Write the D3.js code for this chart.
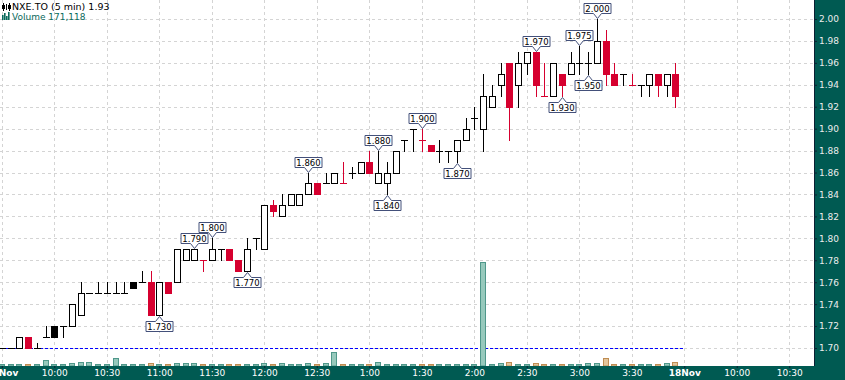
<!DOCTYPE html>
<html><head><meta charset="utf-8">
<script src="https://cdn.jsdelivr.net/npm/d3@7"></script>
<style>html,body{margin:0;padding:0;background:#fff;overflow:hidden}svg{display:block;font-family:"DejaVu Sans",Verdana,sans-serif}</style>
</head><body><svg id="c" width="845" height="380"></svg>
<script>
const times = ["9:30","9:35","9:40","9:45","9:50","9:55","10:00","10:05","10:10","10:15","10:20","10:25","10:30","10:35","10:40","10:45","10:50","10:55","11:00","11:05","11:10","11:15","11:20","11:25","11:30","11:35","11:40","11:45","11:50","11:55","12:00","12:05","12:10","12:15","12:20","12:25","12:30","12:35","12:40","12:45","12:50","12:55","1:00","1:05","1:10","1:15","1:20","1:25","1:30","1:35","1:40","1:45","1:50","1:55","2:00","2:05","2:10","2:15","2:20","2:25","2:30","2:35","2:40","2:45","2:50","2:55","3:00","3:05","3:10","3:15","3:20","3:25","3:30","3:35","3:40","3:45","3:50","3:55"];
const open  = [1.70,1.70,1.70,1.71,1.70,1.71,1.72,1.72,1.72,1.73,1.75,1.75,1.75,1.75,1.75,1.76,1.76,1.76,1.73,1.76,1.76,1.78,1.78,1.78,1.78,1.79,1.79,1.78,1.77,1.80,1.79,1.83,1.82,1.83,1.83,1.84,1.85,1.85,1.85,1.85,1.86,1.86,1.87,1.85,1.85,1.86,1.89,1.90,1.89,1.885,1.88,1.88,1.88,1.89,1.91,1.90,1.92,1.94,1.96,1.94,1.96,1.97,1.93,1.93,1.95,1.95,1.96,1.96,1.96,1.98,1.95,1.95,1.94,1.94,1.94,1.95,1.94,1.95];
const high  = [1.70,1.70,1.71,1.71,1.705,1.72,1.72,1.72,1.74,1.76,1.75,1.76,1.76,1.76,1.76,1.76,1.77,1.77,1.76,1.76,1.79,1.79,1.79,1.78,1.80,1.79,1.79,1.78,1.80,1.80,1.83,1.835,1.84,1.84,1.84,1.86,1.85,1.86,1.86,1.87,1.865,1.87,1.88,1.88,1.87,1.88,1.89,1.90,1.90,1.885,1.89,1.88,1.89,1.91,1.92,1.95,1.94,1.96,1.96,1.97,1.97,1.97,1.96,1.96,1.95,1.97,1.975,1.97,2.00,1.99,1.96,1.95,1.95,1.94,1.95,1.95,1.95,1.96];
const low   = [1.70,1.70,1.70,1.70,1.70,1.71,1.71,1.71,1.72,1.73,1.75,1.75,1.75,1.75,1.75,1.755,1.76,1.73,1.73,1.75,1.76,1.78,1.78,1.77,1.78,1.78,1.78,1.77,1.77,1.79,1.79,1.82,1.82,1.83,1.83,1.84,1.84,1.85,1.85,1.85,1.855,1.86,1.86,1.85,1.84,1.86,1.88,1.88,1.88,1.88,1.87,1.87,1.87,1.89,1.90,1.88,1.92,1.93,1.89,1.92,1.95,1.93,1.93,1.93,1.93,1.95,1.95,1.95,1.96,1.94,1.94,1.94,1.94,1.93,1.93,1.93,1.93,1.92];
const close = [1.70,1.70,1.71,1.70,1.70,1.71,1.71,1.72,1.74,1.75,1.75,1.75,1.75,1.75,1.75,1.755,1.76,1.73,1.76,1.75,1.79,1.79,1.79,1.78,1.79,1.79,1.78,1.77,1.79,1.80,1.83,1.825,1.83,1.84,1.84,1.85,1.84,1.85,1.86,1.85,1.86,1.87,1.86,1.86,1.86,1.88,1.89,1.90,1.89,1.88,1.88,1.88,1.89,1.90,1.91,1.93,1.93,1.95,1.92,1.96,1.97,1.94,1.93,1.96,1.94,1.96,1.96,1.96,1.98,1.95,1.94,1.95,1.94,1.94,1.95,1.94,1.95,1.93];
const volume = [30000,30000,40000,40000,30000,250000,30000,30000,85000,135000,165000,30000,30000,335000,30000,30000,30000,85000,30000,30000,85000,85000,85000,30000,30000,30000,30000,30000,30000,30000,85000,30000,85000,30000,30000,85000,30000,85000,635000,30000,30000,30000,30000,135000,30000,30000,30000,30000,30000,30000,30000,30000,30000,30000,30000,5150000,30000,85000,135000,30000,30000,85000,30000,30000,30000,30000,30000,85000,85000,365000,30000,30000,30000,30000,30000,30000,85000,171118];
const prevClose = 1.70;
const yTicks = [1.70,1.72,1.74,1.76,1.78,1.80,1.82,1.84,1.86,1.88,1.90,1.92,1.94,1.96,1.98,2.00];
const xTickSlots = [0,6,12,18,24,30,36,42,48,54,60,66,72,78,84,90];
const xTickLabels = ["17Nov","10:00","10:30","11:00","11:30","12:00","12:30","1:00","1:30","2:00","2:30","3:00","3:30","18Nov","10:00","10:30"];
const annBars = [18,22,24,28,35,43,44,48,52,61,64,66,67,68];
const annSide = ["low","high","high","low","high","high","low","high","low","high","low","high","low","high"];

const W=845,H=380,plotR=814,axisTop=366;
const RED="#d6002f", BLK="#000", TEAL="#005a52";
const svg=d3.select("#c");
const x=d3.scaleLinear().domain([0,92.83]).range([1.8,plotR]);
const y=d3.scaleLinear().domain([1.70,2.00]).range([348,19]);
const yv=d3.scaleLinear().domain([0,5150000]).range([axisTop,263]);

// grid
const g=svg.append("g");
g.selectAll("line.h").data(yTicks).join("line")
 .attr("x1",0).attr("x2",plotR).attr("y1",d=>Math.round(y(d))+0.5).attr("y2",d=>Math.round(y(d))+0.5)
 .attr("stroke","#d4d4d4").attr("stroke-dasharray","3,3");
g.selectAll("line.v").data(xTickSlots).join("line")
 .attr("y1",0).attr("y2",axisTop).attr("x1",d=>Math.round(x(d))+0.5).attr("x2",d=>Math.round(x(d))+0.5)
 .attr("stroke","#d4d4d4").attr("stroke-dasharray","3,3");

// previous close line
svg.append("line").attr("x1",0).attr("x2",x(78)).attr("y1",Math.round(y(prevClose))+0.5).attr("y2",Math.round(y(prevClose))+0.5)
 .attr("stroke","#0000ff").attr("stroke-dasharray","3,2");

// volume
const idx=d3.range(times.length);
const pc=i=> i===0?prevClose:close[i-1];
svg.append("g").selectAll("rect").data(idx).join("rect")
 .attr("x",i=>Math.round(x(i))-2.5).attr("width",5)
 .attr("y",i=>Math.round(yv(volume[i]))-0.5)
 .attr("height",i=>axisTop-Math.round(yv(volume[i]))+0.5)
 .attr("fill",i=>close[i]>=pc(i)?"#97c9bc":"#e2c59c")
 .attr("stroke",i=>close[i]>=pc(i)?"#4f978a":"#bf8c52");

// candles
const cg=svg.append("g");
idx.forEach(i=>{
  const px=Math.round(x(i));
  const col=close[i]<pc(i)?RED:BLK;
  const yh=Math.round(y(high[i])), yl=Math.round(y(low[i]));
  const yt=Math.round(y(Math.max(open[i],close[i]))), yb=Math.round(y(Math.min(open[i],close[i])));
  if(yl>yh) cg.append("line").attr("x1",px+0.5).attr("x2",px+0.5).attr("y1",yh).attr("y2",yl+1).attr("stroke",col);
  if(yb-yt<1){
    cg.append("line").attr("x1",px-3).attr("x2",px+4).attr("y1",yt+0.5).attr("y2",yt+0.5).attr("stroke",col);
  } else {
    const filled=close[i]<open[i];
    cg.append("rect").attr("x",px-2.5).attr("width",6).attr("y",yt+0.5).attr("height",yb-yt)
      .attr("fill",filled?col:"#fff").attr("stroke",col);
  }
});

// annotations
const ag=svg.append("g");
annBars.forEach((b,k)=>{
  const side=annSide[k];
  const p= side==="high"?high[b]:low[b];
  const cx=Math.round(x(b))+0.5;
  const bw=27,bh=10;
  const x0=cx-13.5,x1=x0+bw;
  let path,ty;
  if(side==="high"){
    const tip=Math.round(y(p))-0.5;
    const bb=tip-5, bt=bb-bh;
    path=`M${x0},${bt}H${x1}V${bb}H${cx+4}L${cx},${tip}L${cx-4},${bb}H${x0}Z`;
    ty=bt+8.3;
  } else {
    const tip=Math.round(y(p))+1.5;
    const bt=tip+5, bb=bt+bh;
    path=`M${x0},${bt}H${cx-4}L${cx},${tip}L${cx+4},${bt}H${x1}V${bb}H${x0}Z`;
    ty=bt+8.3;
  }
  ag.append("path").attr("d",path).attr("fill","#fff").attr("stroke","#43507a");
  ag.append("text").attr("x",cx).attr("y",ty).attr("text-anchor","middle").attr("font-size","8.5px").attr("fill","#000").text(p.toFixed(3));
});

// right panel
svg.append("rect").attr("x",plotR+1).attr("y",0).attr("width",W-plotR-1).attr("height",H).attr("fill",TEAL);
svg.append("rect").attr("x",0).attr("y",axisTop).attr("width",W).attr("height",H-axisTop).attr("fill",TEAL);
svg.append("line").attr("x1",plotR+0.5).attr("x2",plotR+0.5).attr("y1",0).attr("y2",axisTop).attr("stroke","#0b1f33");

const ya=svg.append("g").attr("transform",`translate(${plotR+1},0)`)
 .call(d3.axisRight(y).tickValues(yTicks).tickFormat(d3.format(".2f")).tickSize(2).tickPadding(2));
ya.select(".domain").remove();
ya.selectAll("line").attr("stroke","#0b1f33");
ya.selectAll("text").attr("fill","#ececec").attr("font-size","9px").attr("font-family","DejaVu Sans, sans-serif");

const xa=svg.append("g").attr("transform",`translate(0,${axisTop})`)
 .call(d3.axisBottom(x).tickValues(xTickSlots).tickFormat((d,i)=>xTickLabels[i]).tickSize(2).tickPadding(2));
xa.select(".domain").remove();
xa.selectAll("line").attr("stroke","#0b1f33");
xa.selectAll("text").attr("fill","#fff").attr("font-size","9px").attr("font-family","DejaVu Sans, sans-serif")
 .attr("font-weight",(d,i)=>xTickLabels[i].includes("Nov")?"bold":"normal");

// legend
const lg=svg.append("g");
lg.append("path").attr("d","M3.5,3V11M6.5,4V10M9.5,3V11").attr("stroke","#000");
lg.append("rect").attr("x",2).attr("y",5).attr("width",3).attr("height",4).attr("fill","#000");
lg.append("rect").attr("x",8).attr("y",5).attr("width",3).attr("height",4).attr("fill","#000");
lg.append("text").attr("x",12).attr("y",10).attr("font-size","9.5px").attr("fill","#000").text("NXE.TO (5 min) 1.93");
[[2,15],[4,13],[6,16],[8,12]].forEach(([bx,by])=>lg.append("rect").attr("x",bx).attr("y",by).attr("width",1.6).attr("height",20-by).attr("fill","#0a6a5c"));
lg.append("text").attr("x",12).attr("y",19.5).attr("font-size","9px").attr("fill","#0a6a5c").text("Volume 171,118");
</script></body></html>
